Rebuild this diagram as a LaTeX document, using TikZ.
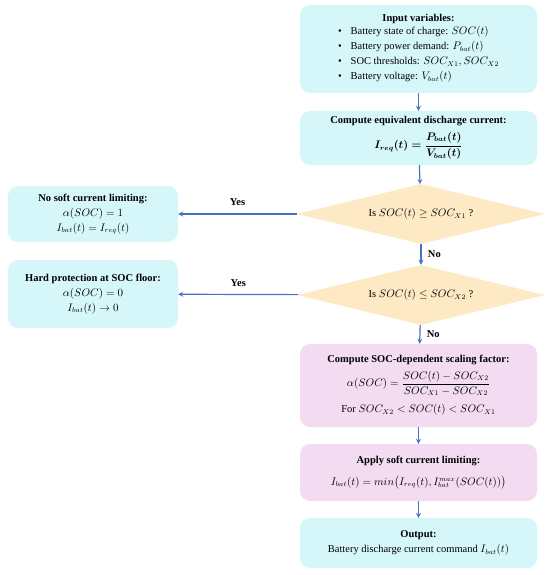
\documentclass[tikz,border=0pt]{standalone}
\usepackage{fontspec}
\setmainfont{Liberation Serif}
\usepackage{amsmath}
\usetikzlibrary{shapes.geometric, arrows, positioning}

\definecolor{boxcyan}{RGB}{214,247,250}
\definecolor{boxpink}{RGB}{243,219,241}
\definecolor{boxsand}{RGB}{253,234,196}
\definecolor{arrblue}{RGB}{68,114,196}

\begin{document}
\begin{tikzpicture}[
    x=1pt, y=-1pt,
    every node/.style={font=\fontsize{10.5}{15}\selectfont},
    io/.style={rectangle, rounded corners=10pt, fill=boxcyan, align=center, minimum width=237pt, inner sep=3pt},
    proc/.style={io, fill=boxpink},
    side/.style={io, minimum width=170pt},
    cond/.style={diamond, aspect=4.2, fill=boxsand, minimum width=248pt, minimum height=60pt, inner sep=0pt, align=center},
    arr/.style={->, >=stealth, line width=1.2pt, arrblue},
    lbl/.style={font=\bfseries\fontsize{10.5}{12}\selectfont, text=black}
]
\useasboundingbox (0,0) rectangle (550,575);

% ===== Main column =====
\node[io, minimum height=88pt] (in) at (418.5,49) {\textbf{Input variables:}\\
    \begin{tabular}{@{}l@{\hspace{9pt}}l@{}}
    \textbullet & Battery state of charge: $SOC(t)$\\
    \textbullet & Battery power demand: $P_{bat}(t)$\\
    \textbullet & SOC thresholds: $SOC_{X1}, SOC_{X2}$\\
    \textbullet & Battery voltage: $V_{bat}(t)$
    \end{tabular}};
\node[io, minimum height=54pt] (eq) at (418.5,138) {\textbf{Compute equivalent discharge current:}\\[5pt]
    {\boldmath$I_{req}(t)=\dfrac{P_{bat}(t)}{V_{bat}(t)}$}};
\node[cond] (chk1) at (421,214) {Is $SOC(t)\geq SOC_{X1}$ ?};
\node[cond] (chk2) at (421,295) {Is $SOC(t)\leq SOC_{X2}$ ?};
\node[proc, minimum height=83pt] (alpha) at (418.5,385.5) {\textbf{Compute SOC-dependent scaling factor:}\\[5pt]
    $\alpha(SOC)=\dfrac{SOC(t)-SOC_{X2}}{SOC_{X1}-SOC_{X2}}$\\[8pt]
    For $SOC_{X2}<SOC(t)<SOC_{X1}$};
\node[proc, minimum height=57pt] (apply) at (418.5,472.5) {\textbf{Apply soft current limiting:}\\[7pt]
    $I_{bat}(t)=min\bigl(I_{req}(t), I_{bat}^{max}(SOC(t))\bigr)$};
\node[io, minimum height=50pt] (out) at (418.5,543) {\textbf{Output:}\\
    Battery discharge current command $I_{bat}(t)$};

% ===== Side branches =====
\node[side, minimum height=56pt] (nolim) at (93,214) {\textbf{No soft current limiting:}\\
    $\alpha(SOC)=1$\\ $I_{bat}(t)=I_{req}(t)$};
\node[side, minimum height=68pt] (floor) at (93,294) {\textbf{Hard protection at SOC floor:}\\
    $\alpha(SOC)=0$\\ $I_{bat}(t)\rightarrow 0$};

% ===== Connections =====
\draw[arr] (in)    -- (eq);
\draw[arr] (eq)    -- (chk1);
\draw[arr] (chk1)  -- node[lbl, above=4pt] {Yes} (nolim);
\draw[arr] (chk1)  -- node[lbl, right=3pt] {No} (chk2);
\draw[arr] (chk2)  -- node[lbl, above=4pt] {Yes} (floor);
\draw[arr] (chk2)  -- node[lbl, right=3pt] {No} (alpha);
\draw[arr] (alpha) -- (apply);
\draw[arr] (apply) -- (out);

\end{tikzpicture}
\end{document}
